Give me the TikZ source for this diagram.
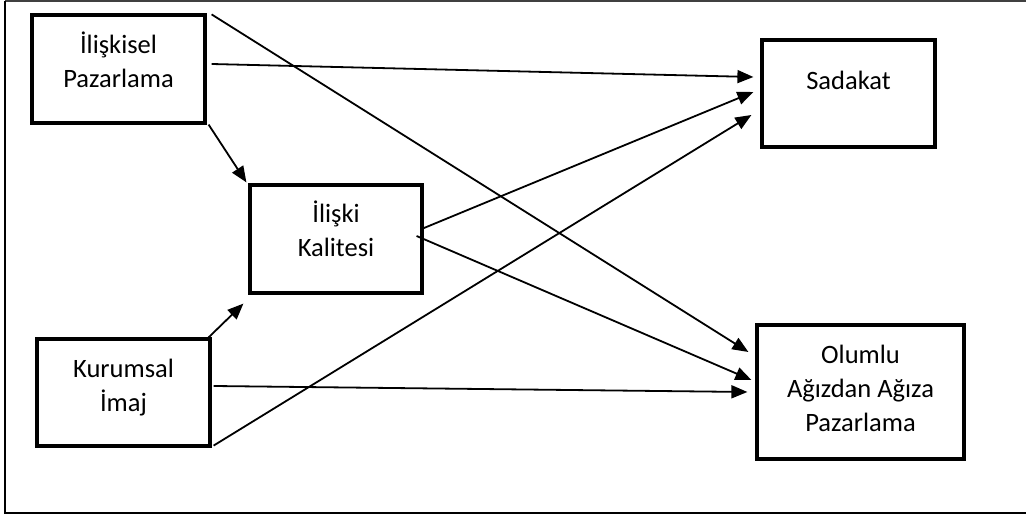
\documentclass[tikz,border=0pt]{standalone}
\usepackage{fontspec}
\setmainfont{Carlito}
\usetikzlibrary{arrows.meta,calc}
\tikzset{
  boxnode/.style={draw=black, line width=3.2pt, minimum width=#1, inner sep=0pt},
  lbl/.style={align=center, inner sep=0pt, font=\fontsize{26.5}{34.5}\selectfont, anchor=base},
  conn/.style={line width=1.8pt, -{Triangle[length=16pt,width=13pt]}},
}
\begin{document}
\begin{tikzpicture}[x=1pt,y=-1pt]
\useasboundingbox (0,0) rectangle (1026,518);
% frame
\draw[line width=2pt, draw=black!75] (5,1.2) -- (1026,1.2);
\draw[line width=2.4pt] (1026,513) -- (5,513) -- (5,1.2);
% boxes
\node[boxnode=173pt, minimum height=108pt] (ip) at (118.5,69) {};
\node[boxnode=172pt, minimum height=108pt] (ik) at (336,239) {};
\node[boxnode=173pt, minimum height=107pt] (ki) at (123.5,392.5) {};
\node[boxnode=173pt, minimum height=107pt] (sa) at (848.5,93.5) {};
\node[boxnode=207pt, minimum height=134pt] (ol) at (860.5,392) {};
% labels (anchor base = baseline of last line)
\node[lbl] (ipt) at (118.5,88) {İlişkisel\\Pazarlama};
\node[lbl] (ikt) at (336,257) {İlişki\\Kalitesi};
\node[lbl] (kit) at (123.5,412) {Kurumsal\\İmaj};
\node[lbl] (sat) at (848.5,90) {Sadakat};
\node[lbl] (olt) at (860.5,432) {Olumlu\\Ağızdan Ağıza\\Pazarlama};
% connectors
\draw[conn] ($(ip.north east)+(5,1)$) -- ($(ol.west)+(-7,-40)$);
\draw[conn] ($(ip.east)+(5,-5)$) -- ($(sa.west)+(-7,-16.5)$);
\draw[conn] ($(ip.south east)+(2,0)$) -- ($(ik.north west)+(-2,-1)$);
\draw[conn] ($(ik.east)+(-2,-10)$) -- ($(sa.west)+(-7,-1.5)$);
\draw[conn] ($(ik.east)+(-7,-3)$) -- ($(ol.west)+(-4,-12)$);
\draw[conn] ($(ki.north east)+(-3,0)$) -- ($(ik.south west)+(-5,9)$);
\draw[conn] ($(ki.east)+(2,-6.5)$) -- ($(ol.west)+(-8,0)$);
\draw[conn] ($(ki.south east)+(2,-2)$) -- ($(sa.west)+(-9,21.5)$);
\end{tikzpicture}
\end{document}
